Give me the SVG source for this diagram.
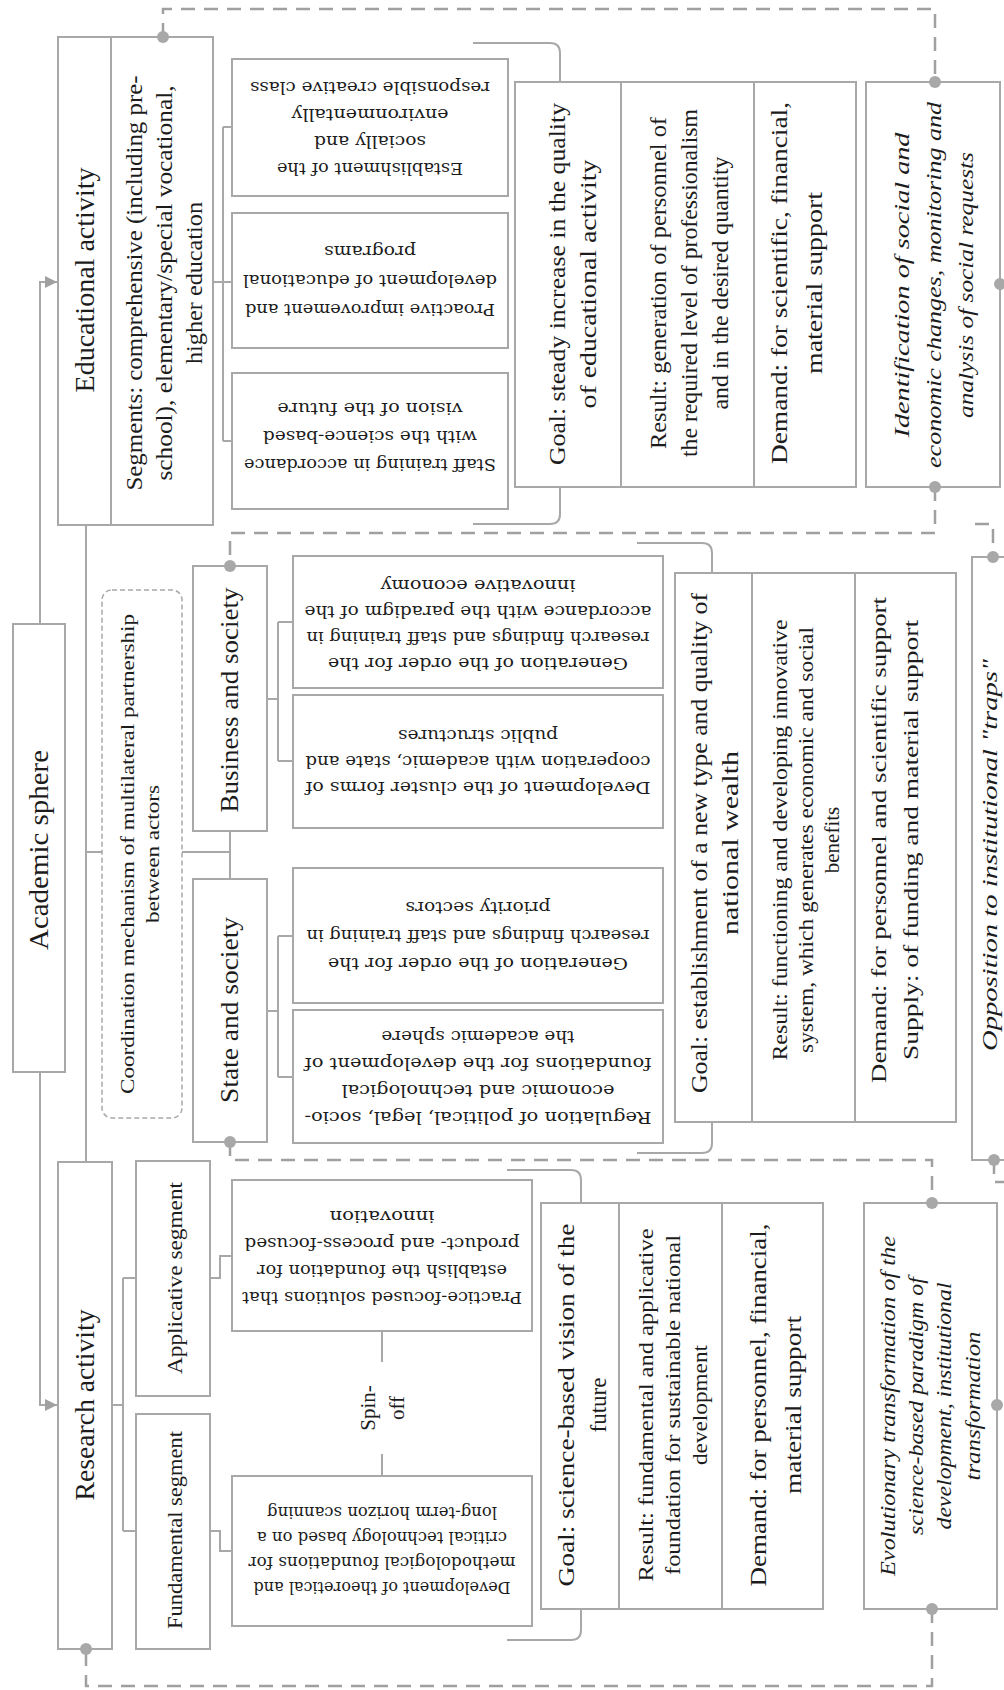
<svg xmlns="http://www.w3.org/2000/svg" width="1004" height="1690" viewBox="0 0 1004 1690">
<defs>
<style>
.box{fill:#fff;stroke:#a8a8a8;stroke-width:2}
.ln{fill:none;stroke:#a8a8a8;stroke-width:2}
.dash{fill:none;stroke:#a0a0a0;stroke-width:2.5;stroke-dasharray:14 9}
.cbox{fill:none;stroke:#a8a8a8;stroke-width:1.5;stroke-dasharray:5 3}
.dot{fill:#a8a8a8}
.t{font-family:"Liberation Serif",serif;fill:#1c1c1c;text-anchor:middle}
.i{font-style:italic}
.u{font-family:"DejaVu Serif","Liberation Serif",serif;font-size:16px;fill:#1c1c1c;text-anchor:middle}
</style>
<marker id="arr" viewBox="0 0 10 10" refX="10" refY="5" markerWidth="14" markerHeight="12" markerUnits="userSpaceOnUse" orient="auto">
<path d="M0,0 L10,5 L0,10 z" fill="#a0a0a0"/>
</marker>
</defs>
<rect width="1004" height="1690" fill="#fff"/>

<g id="connectors">
<path class="ln" d="M40,624 V282 H57" marker-end="url(#arr)"/>
<path class="ln" d="M40,1072 V1405 H57" marker-end="url(#arr)"/>
<path class="ln" d="M86,525 V1162 M86,852 H102 M182,852 H230 M230,831 V879"/>
<path class="ln" d="M213,282 H232 M223,127 V441 M223,127 H232 M223,441 H232"/>
<path class="ln" d="M267,699 H278 M278,622 V761 M278,622 H293 M278,761 H293"/>
<path class="ln" d="M267,1011 H278 M278,936 V1077 M278,936 H293 M278,1077 H293"/>
<path class="ln" d="M112,1405 H123 M123,1278 V1531 M123,1278 H136 M123,1531 H136"/>
<path class="ln" d="M210,1278 H220 V1256 H232 M210,1531 H220 V1551 H232"/>
<path class="ln" d="M382,1331 V1362 M382,1454 V1476"/>
<path class="ln" d="M473,43 H550 Q560,43 560,53 V82 M560,487 V514 Q560,524 550,524 H473"/>
<path class="ln" d="M637,543 H702 Q712,543 712,553 V573 M712,1122 V1143 Q712,1153 702,1153 H637"/>
<path class="ln" d="M507,1170 H571 Q581,1170 581,1180 V1203 M581,1609 V1630 Q581,1640 571,1640 H507"/>
<path class="dash" d="M163,37 V9 H935 V82"/>
<path class="dash" d="M935,487 V533 H230 V566"/>
<path class="dash" d="M975,524 H993 V557"/>
<path class="dash" d="M230,1142 V1160 H932 V1203"/>
<path class="dash" d="M932,1609 V1686 H86 V1649"/>
<path class="dash" d="M994,1160 V1182 H1004"/>
</g>

<g id="educational">
<rect class="box" x="58" y="37" width="155" height="488"/>
<line class="ln" x1="111" y1="37" x2="111" y2="525"/>
<g transform="translate(84.5,280) rotate(-90)"><text class="t" y="9" font-size="27" textLength="225" lengthAdjust="spacingAndGlyphs">Educational activity</text></g>
<g transform="translate(164,283) rotate(-90)" font-size="24">
<text class="t" y="-22" textLength="415" lengthAdjust="spacingAndGlyphs">Segments: comprehensive (including pre-</text>
<text class="t" y="8" textLength="395" lengthAdjust="spacingAndGlyphs">school), elementary/special  vocational,</text>
<text class="t" y="38" textLength="162" lengthAdjust="spacingAndGlyphs">higher education</text>
</g>
</g>

<g id="edu-establishment">
<rect class="box" x="232" y="59" width="276" height="137"/>
<g transform="translate(370,127.5) rotate(180)">
<text class="u" y="-35" textLength="186" lengthAdjust="spacingAndGlyphs">Establishment of the</text>
<text class="u" y="-8" textLength="112" lengthAdjust="spacingAndGlyphs">socially and</text>
<text class="u" y="19" textLength="157" lengthAdjust="spacingAndGlyphs">environmentally</text>
<text class="u" y="46" textLength="240" lengthAdjust="spacingAndGlyphs">responsible creative class</text>
</g>
</g>
<g id="edu-proactive">
<rect class="box" x="232" y="213" width="276" height="135"/>
<g transform="translate(370,280) rotate(180)">
<text class="u" y="-23.5" textLength="250" lengthAdjust="spacingAndGlyphs">Proactive improvement and</text>
<text class="u" y="5.5" textLength="254" lengthAdjust="spacingAndGlyphs">development of educational</text>
<text class="u" y="34.5" textLength="92" lengthAdjust="spacingAndGlyphs">programs</text>
</g>
</g>
<g id="edu-staff">
<rect class="box" x="232" y="373" width="276" height="136"/>
<g transform="translate(370,436) rotate(180)">
<text class="u" y="-22.5" textLength="252" lengthAdjust="spacingAndGlyphs">Staff training in accordance</text>
<text class="u" y="5.5" textLength="214" lengthAdjust="spacingAndGlyphs">with the science-based</text>
<text class="u" y="33.5" textLength="185" lengthAdjust="spacingAndGlyphs">vision of the future</text>
</g>
</g>

<g id="edu-goal">
<rect class="box" x="515" y="82" width="341" height="405"/>
<line class="ln" x1="621" y1="82" x2="621" y2="487"/>
<line class="ln" x1="754" y1="82" x2="754" y2="487"/>
<g transform="translate(572.5,284) rotate(-90)" font-size="23">
<text class="t" y="-7.9" textLength="362" lengthAdjust="spacingAndGlyphs">Goal: steady increase in the quality</text>
<text class="t" y="23.1" textLength="249" lengthAdjust="spacingAndGlyphs">of educational activity</text>
</g>
<g transform="translate(689,283) rotate(-90)" font-size="23">
<text class="t" y="-23.4" textLength="332" lengthAdjust="spacingAndGlyphs">Result: generation of personnel of</text>
<text class="t" y="7.6" textLength="348" lengthAdjust="spacingAndGlyphs">the required level of professionalism</text>
<text class="t" y="38.6" textLength="253" lengthAdjust="spacingAndGlyphs">and in the desired quantity</text>
</g>
<g transform="translate(797,283) rotate(-90)" font-size="23">
<text class="t" y="-9.9" textLength="362" lengthAdjust="spacingAndGlyphs">Demand: for scientific, financial,</text>
<text class="t" y="25.1" textLength="182" lengthAdjust="spacingAndGlyphs">material support</text>
</g>
</g>

<g id="identification">
<rect class="box" x="866" y="82" width="134" height="405"/>
<g transform="translate(934,285) rotate(-90)" font-size="22">
<text class="t i" y="-24.7" textLength="305" lengthAdjust="spacingAndGlyphs">Identification of social and</text>
<text class="t i" y="7.3" textLength="366" lengthAdjust="spacingAndGlyphs">economic changes, monitoring and</text>
<text class="t i" y="39.3" textLength="266" lengthAdjust="spacingAndGlyphs">analysis of social requests</text>
</g>
</g>

<g id="academic">
<rect class="box" x="13" y="624" width="52" height="448"/>
<g transform="translate(39,850) rotate(-90)"><text class="t" y="9" font-size="27" textLength="200" lengthAdjust="spacingAndGlyphs">Academic  sphere</text></g>
</g>

<g id="coordination">
<rect class="cbox" x="102" y="590" width="80" height="528" rx="10"/>
<g transform="translate(140.5,854) rotate(-90)" font-size="19">
<text class="t" y="-6.2" textLength="480" lengthAdjust="spacingAndGlyphs">Coordination mechanism of multilateral partnership</text>
<text class="t" y="18.8" textLength="138" lengthAdjust="spacingAndGlyphs">between actors</text>
</g>
</g>

<g id="business">
<rect class="box" x="193" y="566" width="74" height="265"/>
<g transform="translate(230,700) rotate(-90)"><text class="t" y="8.3" font-size="25" textLength="225" lengthAdjust="spacingAndGlyphs">Business and society</text></g>
</g>
<g id="state">
<rect class="box" x="193" y="879" width="74" height="263"/>
<g transform="translate(230,1010) rotate(-90)"><text class="t" y="8.3" font-size="25" textLength="186" lengthAdjust="spacingAndGlyphs">State and society</text></g>
</g>

<g id="mid-generation-innovative">
<rect class="box" x="293" y="556" width="370" height="132"/>
<g transform="translate(478,624) rotate(180)">
<text class="u" y="-33.5" textLength="300" lengthAdjust="spacingAndGlyphs">Generation of the order for the</text>
<text class="u" y="-7.5" textLength="343" lengthAdjust="spacingAndGlyphs">research findings and staff training in</text>
<text class="u" y="18.5" textLength="347" lengthAdjust="spacingAndGlyphs">accordance with the paradigm of the</text>
<text class="u" y="44.5" textLength="195" lengthAdjust="spacingAndGlyphs">innovative economy</text>
</g>
</g>
<g id="mid-cluster">
<rect class="box" x="293" y="695" width="370" height="133"/>
<g transform="translate(478,761.5) rotate(180)">
<text class="u" y="-20.5" textLength="345" lengthAdjust="spacingAndGlyphs">Development of the cluster forms of</text>
<text class="u" y="5.5" textLength="345" lengthAdjust="spacingAndGlyphs">cooperation with academic, state and</text>
<text class="u" y="31.5" textLength="160" lengthAdjust="spacingAndGlyphs">public structures</text>
</g>
</g>
<g id="mid-generation-priority">
<rect class="box" x="293" y="868" width="370" height="135"/>
<g transform="translate(478,935) rotate(180)">
<text class="u" y="-22.5" textLength="300" lengthAdjust="spacingAndGlyphs">Generation of the order for the</text>
<text class="u" y="5.5" textLength="343" lengthAdjust="spacingAndGlyphs">research findings and staff training in</text>
<text class="u" y="33.5" textLength="145" lengthAdjust="spacingAndGlyphs">priority sectors</text>
</g>
</g>
<g id="mid-regulation">
<rect class="box" x="293" y="1010" width="370" height="133"/>
<g transform="translate(478,1077) rotate(180)">
<text class="u" y="-34.5" textLength="347" lengthAdjust="spacingAndGlyphs">Regulation of political, legal, socio-</text>
<text class="u" y="-7.8" textLength="273" lengthAdjust="spacingAndGlyphs">economic and technological</text>
<text class="u" y="18.9" textLength="347" lengthAdjust="spacingAndGlyphs">foundations for the development of</text>
<text class="u" y="45.6" textLength="193" lengthAdjust="spacingAndGlyphs">the academic sphere</text>
</g>
</g>

<g id="mid-goal">
<rect class="box" x="675" y="573" width="281" height="549"/>
<line class="ln" x1="752" y1="573" x2="752" y2="1122"/>
<line class="ln" x1="855" y1="573" x2="855" y2="1122"/>
<g transform="translate(715,843) rotate(-90)" font-size="23">
<text class="t" y="-7.9" textLength="500" lengthAdjust="spacingAndGlyphs">Goal: establishment of a new type and quality of</text>
<text class="t" y="23.1" textLength="184" lengthAdjust="spacingAndGlyphs">national wealth</text>
</g>
<g transform="translate(806,840) rotate(-90)" font-size="21">
<text class="t" y="-19.1" textLength="441" lengthAdjust="spacingAndGlyphs">Result: functioning and developing innovative</text>
<text class="t" y="6.9" textLength="426" lengthAdjust="spacingAndGlyphs">system, which generates economic and social</text>
<text class="t" y="32.9">benefits</text>
</g>
<g transform="translate(895,840) rotate(-90)" font-size="22">
<text class="t" y="-8.7" textLength="486" lengthAdjust="spacingAndGlyphs">Demand: for personnel and scientific support</text>
<text class="t" y="23.3" textLength="440" lengthAdjust="spacingAndGlyphs">Supply: of funding and material support</text>
</g>
</g>

<g id="opposition">
<rect class="box" x="972" y="557" width="44" height="603"/>
<g transform="translate(990,855) rotate(-90)"><text class="t i" y="7.3" font-size="22" textLength="392" lengthAdjust="spacingAndGlyphs">Opposition to institutional "traps"</text></g>
</g>

<g id="research">
<rect class="box" x="58" y="1162" width="54" height="487"/>
<g transform="translate(85,1405) rotate(-90)"><text class="t" y="9" font-size="27" textLength="191" lengthAdjust="spacingAndGlyphs">Research activity</text></g>
</g>
<g id="applicative">
<rect class="box" x="136" y="1161" width="74" height="235"/>
<g transform="translate(175,1278) rotate(-90)"><text class="t" y="7.3" font-size="22" textLength="192" lengthAdjust="spacingAndGlyphs">Applicative segment</text></g>
</g>
<g id="fundamental">
<rect class="box" x="136" y="1414" width="74" height="235"/>
<g transform="translate(175,1530) rotate(-90)"><text class="t" y="7.3" font-size="22" textLength="198" lengthAdjust="spacingAndGlyphs">Fundamental segment</text></g>
</g>

<g id="practice">
<rect class="box" x="232" y="1180" width="300" height="151"/>
<g transform="translate(382,1257) rotate(180)">
<text class="u" y="-35" textLength="280" lengthAdjust="spacingAndGlyphs">Practice-focused solutions that</text>
<text class="u" y="-8" textLength="250" lengthAdjust="spacingAndGlyphs">establish the foundation for</text>
<text class="u" y="19" textLength="275" lengthAdjust="spacingAndGlyphs">product- and process-focused</text>
<text class="u" y="46" textLength="105" lengthAdjust="spacingAndGlyphs">innovation</text>
</g>
</g>
<g id="spinoff">
<g transform="translate(382,1408) rotate(-90)" font-size="21">
<text class="t" y="-7.5">Spin-</text>
<text class="t" y="21.5">off</text>
</g>
</g>
<g id="development">
<rect class="box" x="232" y="1476" width="300" height="150"/>
<g transform="translate(382,1550) rotate(180)">
<text class="u" y="-32" textLength="257" lengthAdjust="spacingAndGlyphs">Development of theoretical and</text>
<text class="u" y="-7" textLength="267" lengthAdjust="spacingAndGlyphs">methodological foundations for</text>
<text class="u" y="18" textLength="250" lengthAdjust="spacingAndGlyphs">critical technology based on a</text>
<text class="u" y="43" textLength="230" lengthAdjust="spacingAndGlyphs">long-term horizon scanning</text>
</g>
</g>

<g id="res-goal">
<rect class="box" x="541" y="1203" width="282" height="406"/>
<line class="ln" x1="619" y1="1203" x2="619" y2="1609"/>
<line class="ln" x1="722" y1="1203" x2="722" y2="1609"/>
<g transform="translate(582,1405) rotate(-90)" font-size="23">
<text class="t" y="-8.4" textLength="363" lengthAdjust="spacingAndGlyphs">Goal: science-based vision of the</text>
<text class="t" y="23.6">future</text>
</g>
<g transform="translate(673,1405) rotate(-90)" font-size="21">
<text class="t" y="-20" textLength="353" lengthAdjust="spacingAndGlyphs">Result: fundamental  and applicative</text>
<text class="t" y="7" textLength="340" lengthAdjust="spacingAndGlyphs">foundation for sustainable national</text>
<text class="t" y="34" textLength="120" lengthAdjust="spacingAndGlyphs">development</text>
</g>
<g transform="translate(776,1405) rotate(-90)" font-size="23">
<text class="t" y="-9.9" textLength="363" lengthAdjust="spacingAndGlyphs">Demand: for personnel, financial,</text>
<text class="t" y="25.1" textLength="178" lengthAdjust="spacingAndGlyphs">material support</text>
</g>
</g>

<g id="evolutionary">
<rect class="box" x="864" y="1203" width="133" height="406"/>
<g transform="translate(930,1406) rotate(-90)" font-size="21">
<text class="t i" y="-35.5" textLength="340" lengthAdjust="spacingAndGlyphs">Evolutionary transformation of the</text>
<text class="t i" y="-7.2" textLength="258" lengthAdjust="spacingAndGlyphs">science-based paradigm of</text>
<text class="t i" y="21.2" textLength="247" lengthAdjust="spacingAndGlyphs">development, institutional</text>
<text class="t i" y="49.5" textLength="149" lengthAdjust="spacingAndGlyphs">transformation</text>
</g>
</g>

<g id="dots">
<circle class="dot" cx="163" cy="37" r="6"/>
<circle class="dot" cx="935" cy="82" r="6"/>
<circle class="dot" cx="935" cy="487" r="6"/>
<circle class="dot" cx="1000" cy="284" r="6"/>
<circle class="dot" cx="230" cy="566" r="6"/>
<circle class="dot" cx="993" cy="557" r="6"/>
<circle class="dot" cx="230" cy="1142" r="6"/>
<circle class="dot" cx="994" cy="1160" r="6"/>
<circle class="dot" cx="932" cy="1203" r="6"/>
<circle class="dot" cx="932" cy="1609" r="6"/>
<circle class="dot" cx="997" cy="1405" r="6"/>
<circle class="dot" cx="86" cy="1649" r="6"/>
</g>
</svg>
